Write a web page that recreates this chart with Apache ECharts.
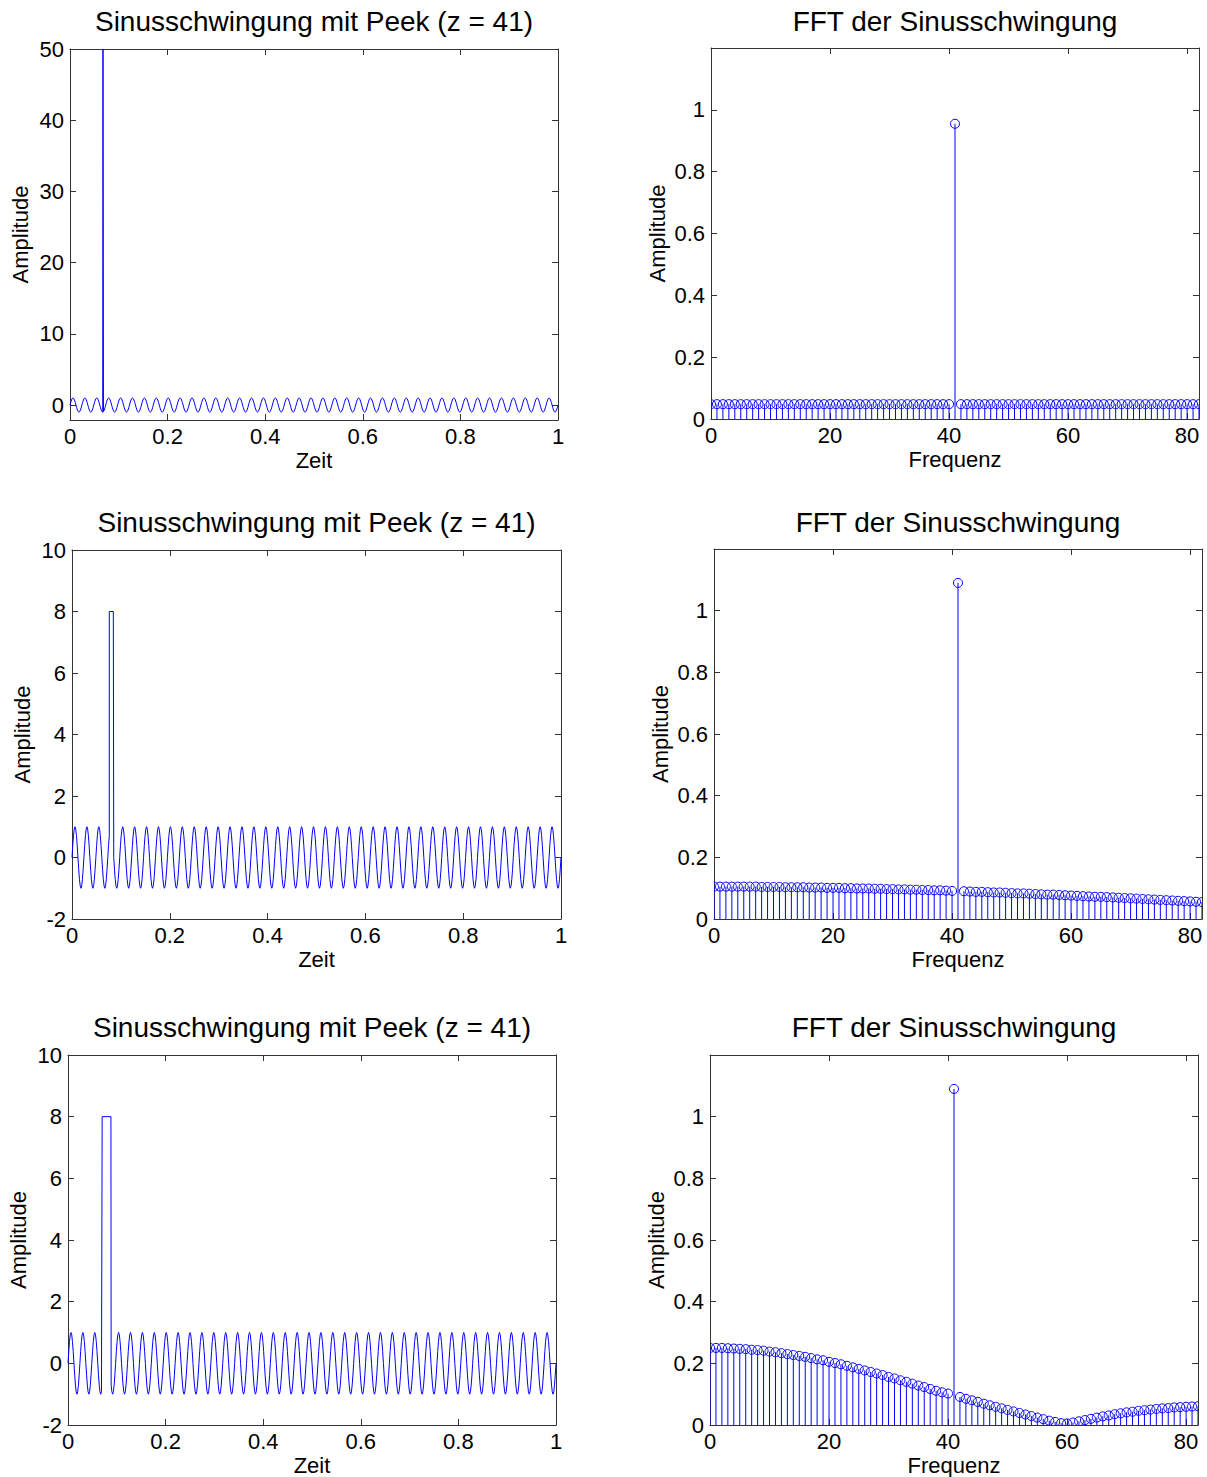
<!DOCTYPE html>
<html><head><meta charset="utf-8">
<script src="https://cdn.jsdelivr.net/npm/echarts@6/dist/echarts.min.js"></script>
<style>html,body{margin:0;padding:0;background:#fff}#c{width:1207px;height:1477px}</style>
</head><body><div id="c"></div>
<script>
// ---------------- data ----------------
const sineFrequency = 41;              // cycles per second (41 periods over 0..1 s)
const sineCycle = [0, 0.383, 0.707, 0.924, 1, 0.924, 0.707, 0.383, 0, -0.383, -0.707, -0.924, -1, -0.924, -0.707, -0.383];
const peak1 = { start: 0.0676, end: 0.0676, height: 50 };
const peak2 = { start: 0.0763, end: 0.0845, height: 8 };
const peak3 = { start: 0.0700, end: 0.0880, height: 8 };

const fftAmp1 = [0.048,0.048,0.048,0.048,0.048,0.048,0.048,0.048,0.048,0.048,0.048,
  0.048,0.048,0.048,0.048,0.048,0.048,0.048,0.048,0.048,0.048,
  0.048,0.048,0.048,0.048,0.048,0.048,0.048,0.048,0.048,0.048,
  0.048,0.048,0.048,0.048,0.048,0.048,0.048,0.048,0.048,0.048,
  0.955,0.048,0.048,0.048,0.048,0.048,0.048,0.048,0.048,0.048,
  0.048,0.048,0.048,0.048,0.048,0.048,0.048,0.048,0.048,0.048,
  0.048,0.048,0.048,0.048,0.048,0.048,0.048,0.048,0.048,0.048,
  0.048,0.048,0.048,0.048,0.048,0.048,0.048,0.048,0.048,0.048,0.048,0.048];
const fftAmp2 = [0.105,0.105,0.105,0.105,0.105,0.105,0.105,0.105,0.104,0.104,0.104,
  0.104,0.103,0.103,0.103,0.103,0.102,0.102,0.102,0.101,0.101,
  0.101,0.100,0.100,0.099,0.099,0.099,0.098,0.098,0.097,0.097,
  0.096,0.096,0.095,0.095,0.094,0.094,0.093,0.093,0.092,0.091,
  1.090,0.090,0.089,0.088,0.088,0.087,0.086,0.086,0.085,0.084,
  0.083,0.083,0.082,0.081,0.080,0.079,0.079,0.078,0.077,0.076,
  0.075,0.074,0.073,0.072,0.072,0.071,0.070,0.069,0.068,0.067,
  0.066,0.065,0.064,0.063,0.062,0.061,0.060,0.059,0.058,0.057,0.056,0.055];
const fftAmp3 = [0.250,0.250,0.250,0.249,0.248,0.247,0.246,0.244,0.243,0.241,0.238,
  0.236,0.233,0.230,0.227,0.224,0.221,0.217,0.213,0.210,0.205,
  0.201,0.197,0.192,0.187,0.182,0.177,0.172,0.167,0.162,0.156,
  0.151,0.145,0.140,0.134,0.128,0.123,0.117,0.111,0.106,0.102,
  1.090,0.091,0.085,0.080,0.075,0.069,0.064,0.059,0.054,0.049,
  0.044,0.039,0.034,0.029,0.024,0.019,0.014,0.010,0.006,0.005,
  0.008,0.012,0.016,0.020,0.024,0.028,0.031,0.035,0.038,0.041,
  0.043,0.046,0.048,0.050,0.052,0.054,0.055,0.057,0.058,0.059,0.060,0.061];

const timeTicks = [0, 0.2, 0.4, 0.6, 0.8, 1];
const freqTicks = [0, 20, 40, 60, 80];
const ampTicksBig = [0, 10, 20, 30, 40, 50];
const ampTicks = [-2, 0, 2, 4, 6, 8, 10];
const fftTicks = [0, 0.2, 0.4, 0.6, 0.8, 1];

const titleTime = 'Sinusschwingung mit Peek (z = 41)';
const titleFft = 'FFT der Sinusschwingung';

// ---------------- build ----------------
function buildSignal(peak) {
  const n = sineCycle.length * sineFrequency;
  const pts = [];
  let inserted = false;
  for (let k = 0; k <= n; k++) {
    const t = k / n;
    const v = sineCycle[k % sineCycle.length];
    if (!inserted && t >= peak.start) {
      pts.push([peak.start, peak.height]);
      pts.push([peak.end, peak.height]);
      inserted = true;
    }
    if (t >= peak.start && t <= peak.end) continue;
    pts.push([t, v]);
  }
  return pts;
}
function buildStems(amps) {
  return amps.map((a, i) => [i, a]);
}

const FONT = '"Liberation Sans", Arial, Helvetica, sans-serif';
const AX = '#333';
const grids = [
  { left: 70, top: 49, width: 488, height: 371 },
  { left: 711, top: 48, width: 488, height: 371 },
  { left: 72, top: 550, width: 489, height: 369 },
  { left: 714, top: 549, width: 488, height: 370 },
  { left: 68, top: 1055, width: 488, height: 370 },
  { left: 710, top: 1055, width: 488, height: 370 }
];
const panels = [
  { kind: 'time', peak: peak1, yMin: -2.1, yMax: 50, yTicks: ampTicksBig },
  { kind: 'fft', amps: fftAmp1 },
  { kind: 'time', peak: peak2, yMin: -2, yMax: 10, yTicks: ampTicks },
  { kind: 'fft', amps: fftAmp2 },
  { kind: 'time', peak: peak3, yMin: -2, yMax: 10, yTicks: ampTicks },
  { kind: 'fft', amps: fftAmp3 }
];

const xAxes = [], yAxes = [], series = [], titles = [];
panels.forEach((p, i) => {
  const g = grids[i];
  const isTime = p.kind === 'time';
  const xMin = 0, xMax = isTime ? 1 : 82;
  const xT = isTime ? timeTicks : freqTicks;
  const yMin = isTime ? p.yMin : 0, yMax = isTime ? p.yMax : 1.2;
  const yT = isTime ? p.yTicks : fftTicks;
  const line = { show: true, onZero: false, lineStyle: { color: AX, width: 1 } };
  const tick = (vals) => ({ show: true, inside: true, length: 6, customValues: vals, lineStyle: { color: AX, width: 1 } });
  const lbl = (vals, m) => ({ show: true, customValues: vals, margin: m, color: '#000', fontSize: 22, fontFamily: FONT });
  const nameStyle = { color: '#000', fontSize: 22, fontFamily: FONT };
  xAxes.push({ gridIndex: i, type: 'value', min: xMin, max: xMax, position: 'bottom',
    axisLine: line, axisTick: tick(xT), axisLabel: lbl(xT, 5), splitLine: { show: false },
    name: isTime ? 'Zeit' : 'Frequenz', nameLocation: 'middle', nameGap: 29, nameTextStyle: nameStyle });
  xAxes.push({ gridIndex: i, type: 'value', min: xMin, max: xMax, position: 'top',
    axisLine: line, axisTick: tick(xT), axisLabel: { show: false }, splitLine: { show: false } });
  yAxes.push({ gridIndex: i, type: 'value', min: yMin, max: yMax, position: 'left',
    axisLine: line, axisTick: tick(yT), axisLabel: lbl(yT, 6), splitLine: { show: false },
    name: 'Amplitude', nameLocation: 'middle', nameGap: (i % 2 === 0) ? 39 : 43, nameTextStyle: nameStyle });
  yAxes.push({ gridIndex: i, type: 'value', min: yMin, max: yMax, position: 'right',
    axisLine: line, axisTick: tick(yT), axisLabel: { show: false }, splitLine: { show: false } });
  const xi = 2 * i, yi = 2 * i;
  if (isTime) {
    series.push({ type: 'line', xAxisIndex: xi, yAxisIndex: yi, data: buildSignal(p.peak),
      showSymbol: false, symbol: 'none', clip: true, lineStyle: { color: '#0000ff', width: 1 }, itemStyle: { color: '#0000ff' } });
  } else {
    series.push({ type: 'custom', xAxisIndex: xi, yAxisIndex: yi, data: buildStems(p.amps), clip: true,
      renderItem: function (params, api) {
        const x = api.value(0), y = api.value(1);
        const p0 = api.coord([x, 0]), p1 = api.coord([x, y]);
        return { type: 'group', children: [
          { type: 'line', shape: { x1: p0[0], y1: p0[1], x2: p1[0], y2: p1[1] }, style: { stroke: '#0000ff', lineWidth: 1 } },
          { type: 'circle', shape: { cx: p1[0], cy: p1[1], r: 4.5 }, style: { fill: 'none', stroke: '#0000ff', lineWidth: 1 } }
        ] };
      } });
  }
  titles.push({ text: isTime ? titleTime : titleFft, left: g.left + g.width / 2,
    top: [21, 21, 522, 522, 1027, 1027][i], padding: 0, textAlign: 'center', textVerticalAlign: 'middle',
    textStyle: { color: '#000', fontSize: 28, fontWeight: 'normal', fontFamily: FONT } });
});

const chart = echarts.init(document.getElementById('c'), null, { renderer: 'svg' });
chart.setOption({
  animation: false,
  backgroundColor: '#fff',
  title: titles,
  grid: grids.map(g => Object.assign({ containLabel: false, outerBoundsMode: 'none' }, g)),
  xAxis: xAxes,
  yAxis: yAxes,
  series: series
});
</script></body></html>
